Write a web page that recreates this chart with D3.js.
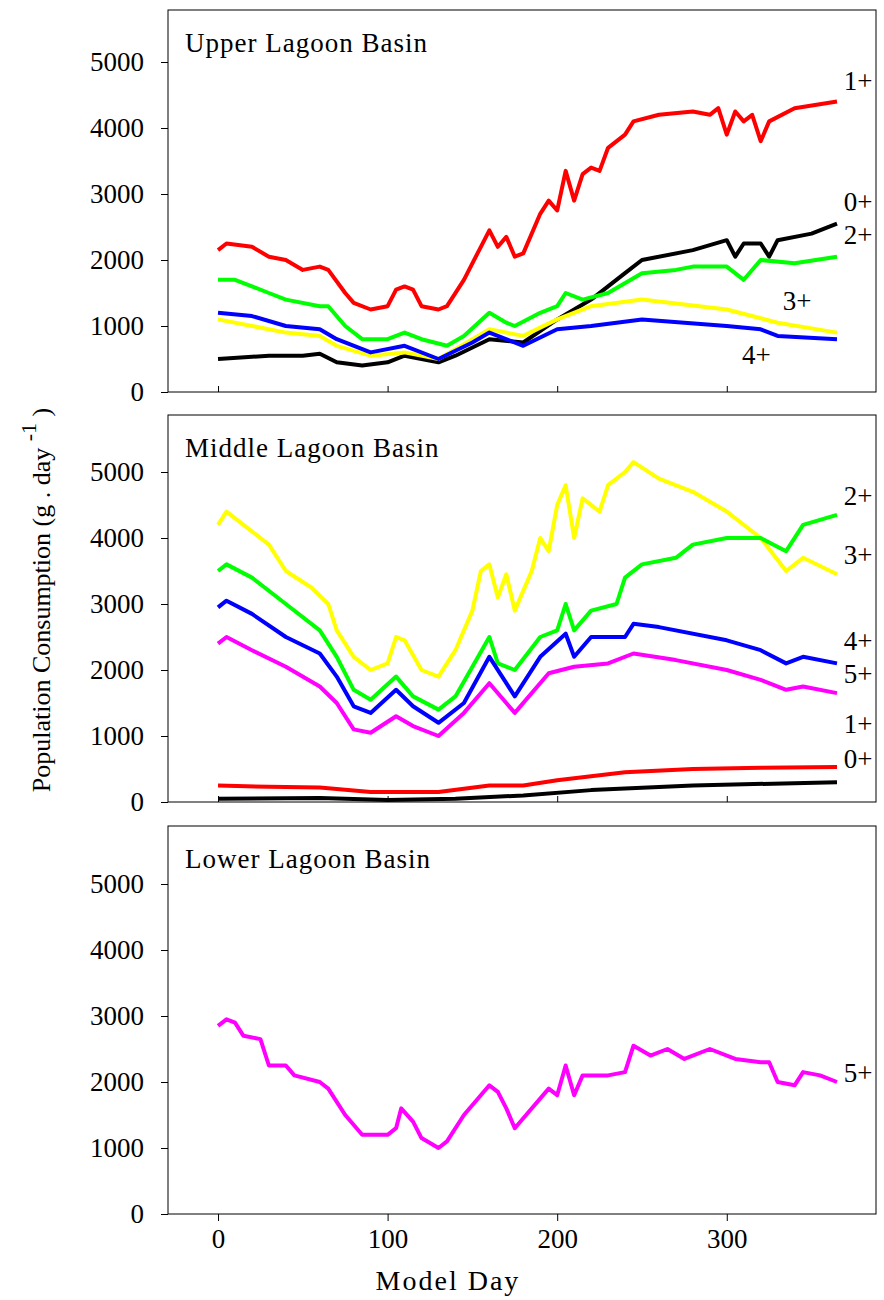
<!DOCTYPE html>
<html><head><meta charset="utf-8">
<script src="https://cdn.jsdelivr.net/npm/d3@7"></script>
<style>body{margin:0;background:#fff}svg text{font-family:"Liberation Serif","DejaVu Serif",serif}</style>
</head><body>
<script>
// data: [day, value] key points
const upper = [
  {name:"1+", color:"#ff0000", pts:[[0,2150],[5,2250],[20,2200],[30,2050],[40,2000],[50,1850],[60,1900],[65,1850],[75,1500],[80,1350],[90,1250],[100,1300],[105,1550],[110,1600],[115,1550],[120,1300],[130,1250],[135,1300],[145,1700],[155,2200],[160,2450],[165,2200],[170,2350],[175,2050],[180,2100],[190,2700],[195,2900],[200,2750],[205,3350],[210,2900],[215,3300],[220,3400],[225,3350],[230,3700],[240,3900],[245,4100],[260,4200],[280,4250],[290,4200],[295,4300],[300,3900],[305,4250],[310,4100],[315,4200],[320,3800],[325,4100],[340,4300],[365,4400]]},
  {name:"0+", color:"#000000", pts:[[0,500],[30,550],[50,550],[60,580],[70,450],[85,400],[100,450],[110,550],[130,450],[140,550],[160,800],[180,750],[200,1100],[210,1250],[220,1400],[230,1600],[240,1800],[250,2000],[280,2150],[300,2300],[305,2050],[310,2250],[320,2250],[325,2050],[330,2300],[350,2400],[365,2550]]},
  {name:"2+", color:"#00ff00", pts:[[0,1700],[10,1700],[20,1600],[30,1500],[40,1400],[60,1300],[65,1300],[75,1000],[85,800],[100,800],[110,900],[120,800],[135,700],[145,850],[160,1200],[170,1050],[175,1000],[190,1200],[200,1300],[205,1500],[215,1400],[230,1500],[250,1800],[270,1850],[280,1900],[300,1900],[310,1700],[320,2000],[340,1950],[365,2050]]},
  {name:"3+", color:"#ffff00", pts:[[0,1100],[20,1000],[40,900],[60,850],[70,700],[90,550],[110,600],[130,500],[150,800],[160,950],[180,850],[200,1100],[220,1300],[250,1400],[300,1250],[330,1050],[365,900]]},
  {name:"4+", color:"#0000ff", pts:[[0,1200],[20,1150],[40,1000],[60,950],[70,800],[90,600],[110,700],[130,500],[150,750],[160,900],[180,700],[200,950],[220,1000],[250,1100],[300,1000],[320,950],[330,850],[365,800]]}
];
const middle = [
  {name:"3+", color:"#ffff00", pts:[[0,4200],[5,4400],[15,4200],[30,3900],[40,3500],[55,3250],[65,3000],[70,2600],[80,2200],[90,2000],[100,2100],[105,2500],[110,2450],[120,2000],[130,1900],[140,2300],[150,2900],[155,3500],[160,3600],[165,3100],[170,3450],[175,2900],[185,3500],[190,4000],[195,3800],[200,4500],[205,4800],[210,4000],[215,4600],[225,4400],[230,4800],[240,5000],[245,5150],[260,4900],[280,4700],[300,4400],[320,4000],[335,3500],[345,3700],[365,3450]]},
  {name:"2+", color:"#00ff00", pts:[[0,3500],[5,3600],[20,3400],[40,3000],[60,2600],[70,2200],[80,1700],[90,1550],[105,1900],[115,1600],[130,1400],[140,1600],[160,2500],[165,2100],[175,2000],[190,2500],[200,2600],[205,3000],[210,2600],[220,2900],[235,3000],[240,3400],[250,3600],[270,3700],[280,3900],[300,4000],[320,4000],[335,3800],[345,4200],[365,4350]]},
  {name:"4+", color:"#0000ff", pts:[[0,2950],[5,3050],[20,2850],[40,2500],[60,2250],[70,1900],[80,1450],[90,1350],[105,1700],[115,1450],[130,1200],[145,1500],[160,2200],[170,1800],[175,1600],[190,2200],[205,2550],[210,2200],[220,2500],[240,2500],[245,2700],[260,2650],[300,2450],[320,2300],[335,2100],[345,2200],[365,2100]]},
  {name:"5+", color:"#ff00ff", pts:[[0,2400],[5,2500],[20,2300],[40,2050],[60,1750],[70,1500],[80,1100],[90,1050],[105,1300],[115,1150],[130,1000],[145,1350],[160,1800],[170,1500],[175,1350],[195,1950],[210,2050],[230,2100],[245,2250],[270,2150],[300,2000],[320,1850],[335,1700],[345,1750],[365,1650]]},
  {name:"1+", color:"#ff0000", pts:[[0,250],[30,230],[60,220],[90,150],[130,150],[160,250],[180,250],[200,330],[240,450],[280,500],[320,520],[365,530]]},
  {name:"0+", color:"#000000", pts:[[0,50],[60,60],[100,30],[140,50],[180,100],[220,180],[280,250],[365,300]]}
];
const lower = [
  {name:"5+", color:"#ff00ff", pts:[[0,2850],[5,2950],[10,2900],[15,2700],[25,2650],[30,2250],[40,2250],[45,2100],[60,2000],[65,1900],[75,1500],[85,1200],[100,1200],[105,1300],[108,1600],[115,1400],[120,1150],[130,1000],[135,1100],[145,1500],[160,1950],[165,1850],[170,1600],[175,1300],[180,1450],[195,1900],[200,1800],[205,2250],[210,1800],[215,2100],[230,2100],[240,2150],[245,2550],[255,2400],[265,2500],[275,2350],[290,2500],[305,2350],[320,2300],[325,2300],[330,2000],[340,1950],[345,2150],[355,2100],[365,2000]]}
];
// label anchor points [name, day, value]
const upperLabels = [["1+",369,4580],["0+",369,2750],["2+",369,2250],["3+",333,1250],["4+",309,420]];
const middleLabels = [["2+",369,4500],["3+",369,3600],["4+",369,2300],["5+",369,1800],["1+",369,1050],["0+",369,520]];
const lowerLabels = [["5+",369,2000]];
const yTicks = [0,1000,2000,3000,4000,5000];
const xTicks = [0,100,200,300];
const titles = ["Upper Lagoon Basin","Middle Lagoon Basin","Lower Lagoon Basin"];

const svg = d3.select("body").append("svg").attr("width",884).attr("height",1300);
const x = d3.scaleLinear().domain([-29.5,388]).range([168,876]);
const panels = [{top:10,bottom:392,series:upper,labels:upperLabels},
                {top:415,bottom:802,series:middle,labels:middleLabels},
                {top:826,bottom:1214,series:lower,labels:lowerLabels}];
const fs = 27;

panels.forEach((p,i)=>{
  const y = d3.scaleLinear().domain([0,5000]).range([p.bottom,p.bottom-330]);
  const g = svg.append("g");
  g.append("rect").attr("x",168).attr("y",p.top).attr("width",708).attr("height",p.bottom-p.top)
    .attr("fill","none").attr("stroke","#000").attr("stroke-width",1);
  const ya = g.append("g").attr("transform","translate(168,0)")
    .call(d3.axisLeft(y).tickValues(yTicks).tickFormat(d3.format("d")).tickSize(7).tickPadding(17))
    .attr("font-size",fs).attr("font-family",null);
  ya.select(".domain").remove();
  const xa = g.append("g").attr("transform",`translate(0,${p.bottom})`)
    .call(i===2 ? d3.axisBottom(x).tickValues(xTicks).tickSize(7).tickPadding(8)
                : d3.axisTop(x).tickValues(xTicks).tickSize(6).tickFormat(""))
    .attr("font-size",fs).attr("font-family",null);
  xa.select(".domain").remove();
  g.append("text").attr("x",185).attr("y",p.top+42).attr("font-size",fs).style("letter-spacing","1px").text(titles[i]);
  const line = d3.line().x(d=>x(d[0])).y(d=>y(d[1]));
  p.series.forEach(s=>{
    g.append("path").attr("d",line(s.pts)).attr("fill","none").attr("stroke",s.color)
      .attr("stroke-width",4).attr("stroke-linejoin","round");
  });
  p.labels.forEach(l=>{
    g.append("text").attr("x",x(l[1])).attr("y",y(l[2])).attr("font-size",fs).text(l[0]);
  });
});
svg.append("text").attr("x",448).attr("y",1290).attr("text-anchor","middle")
  .attr("font-size",28).style("letter-spacing","2px").text("Model Day");
const yl = svg.append("text").attr("transform","translate(50,600) rotate(-90)")
  .attr("text-anchor","middle").attr("font-size",26);
yl.append("tspan").text("Population Consumption (g . day ");
yl.append("tspan").attr("dy","-14").attr("font-size",22).text("-1");
yl.append("tspan").attr("dy","14").text(" )");
</script>
</body></html>
